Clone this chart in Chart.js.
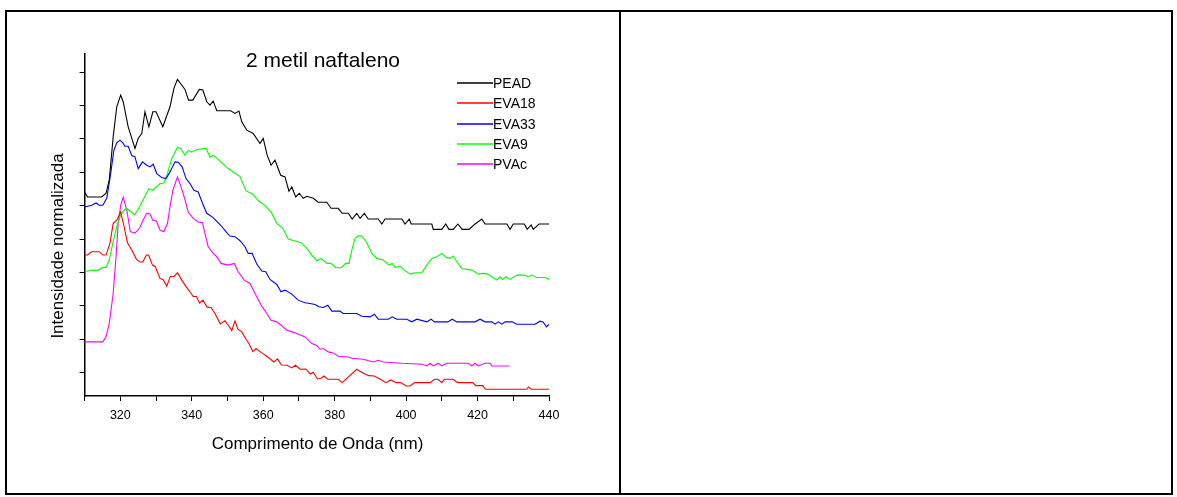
<!DOCTYPE html>
<html><head><meta charset="utf-8">
<script src="https://cdn.jsdelivr.net/npm/chart.js@4"></script>
<style>
html,body{margin:0;padding:0;background:#fff;}
#wrap{position:relative;width:1177px;height:497px;overflow:hidden;background:#fff;}
#c{position:absolute;left:0;top:0;}
.b{position:absolute;background:#000;}
</style></head><body>
<div id="wrap">
<canvas id="c" width="1177" height="497"></canvas>
<div class="b" style="left:5px;top:10px;width:1168px;height:2px"></div>
<div class="b" style="left:5px;top:493px;width:1168px;height:2px"></div>
<div class="b" style="left:5px;top:10px;width:2px;height:485px"></div>
<div class="b" style="left:1171px;top:10px;width:2px;height:485px"></div>
<div class="b" style="left:619px;top:10px;width:2px;height:485px"></div>
</div>
<script>
const TITLE = "2 metil naftaleno";
const X_TITLE = "Comprimento de Onda (nm)";
const Y_TITLE = "Intensidade normalizada";
const X_MIN = 310, X_MAX = 440, X_STEP = 10;
const Y_TICKS = [1,2,3,4,5,6,7,8,9,10];
const SERIES_NAMES = ["PEAD","EVA18","EVA33","EVA9","PVAc"];
const SERIES_COLORS = ["#000000","#ff0000","#0000ff","#00ff00","#ff00ff"];

const PEAD = [[310,6.41],[310.8,6.26],[314.8,6.26],[316.0,6.37],[316.9,6.76],[318.0,8.06],[319.0,8.96],[320.1,9.31],[320.8,9.11],[322.2,8.36],[324.1,7.71],[325.0,8.01],[326.0,8.16],[326.9,8.81],[328.0,8.36],[329.1,8.81],[330.0,8.81],[331.9,8.36],[333.9,8.96],[335.0,9.51],[336.0,9.78],[338.1,9.48],[339.1,9.16],[340.3,9.16],[342.1,9.48],[343.1,9.46],[344.2,9.11],[345.1,9.01],[346.0,9.13],[347.0,8.84],[350.9,8.84],[352.1,8.76],[353.2,8.83],[354.0,8.51],[355.4,8.26],[357.2,8.16],[359.1,7.86],[360.0,8.01],[361.1,7.51],[362.2,7.21],[363.3,7.36],[364.9,6.91],[366.1,6.86],[367.2,6.43],[368.0,6.56],[369.1,6.26],[370.1,6.37],[371.2,6.22],[372.2,6.28],[374.0,6.22],[375.4,6.10],[377.8,6.10],[379.0,5.92],[381.0,5.92],[382.1,5.77],[383.8,5.77],[384.9,5.60],[386.2,5.77],[387.1,5.62],[388.3,5.77],[389.4,5.60],[392.2,5.60],[393.2,5.45],[394.1,5.60],[398.8,5.60],[399.7,5.45],[400.9,5.60],[401.4,5.45],[407.2,5.45],[407.6,5.29],[410.0,5.29],[411.1,5.45],[412.0,5.29],[413.2,5.29],[414.5,5.45],[415.7,5.29],[417.6,5.29],[419.3,5.45],[421.2,5.60],[422.1,5.45],[428.2,5.45],[429.1,5.29],[430.0,5.45],[433.1,5.45],[433.9,5.29],[435.0,5.42],[435.6,5.29],[437.2,5.45],[440,5.45]];

const EVA18 = [[310,4.52],[310.8,4.52],[312.0,4.62],[314.1,4.62],[315.1,4.52],[316.0,4.52],[317.1,4.87],[318.0,5.47],[319.1,5.58],[320.1,5.81],[320.9,5.45],[322.0,4.89],[323.2,4.67],[324.5,4.40],[325.5,4.31],[326.3,4.31],[327.3,4.52],[327.9,4.52],[329.0,4.22],[329.8,4.17],[331.1,3.82],[332.0,3.78],[333.0,3.59],[334.0,3.88],[335.1,3.88],[336.0,3.99],[337.2,3.77],[338.5,3.56],[339.5,3.42],[340.4,3.28],[341.3,3.28],[342.2,3.08],[343.1,3.17],[344.3,2.96],[345.4,2.95],[346.5,2.77],[348.0,2.46],[349.3,2.55],[350.2,2.42],[351.2,2.26],[352.1,2.55],[352.9,2.30],[354.0,2.22],[355.2,2.00],[356.0,1.87],[357.1,1.63],[358.0,1.72],[359.2,1.62],[359.9,1.57],[361.0,1.49],[363.0,1.32],[364.0,1.41],[365.1,1.23],[366.7,1.22],[368.0,1.14],[369.0,1.22],[370.4,1.10],[371.9,1.11],[373.2,0.96],[374.0,1.01],[375.2,0.81],[376.2,0.83],[377.0,0.90],[378.1,0.80],[381.0,0.80],[382.1,0.70],[386.2,1.10],[387.1,1.04],[388.0,0.99],[389.5,0.91],[391.1,0.90],[392.8,0.80],[394.3,0.70],[395.7,0.78],[397.2,0.70],[398.4,0.70],[400.1,0.60],[401.1,0.60],[402.4,0.70],[406.7,0.70],[408.0,0.80],[408.9,0.80],[410.0,0.70],[410.7,0.80],[413.2,0.80],[414.4,0.70],[418.6,0.70],[419.5,0.61],[421.4,0.61],[422.2,0.50],[433.7,0.50],[434.3,0.57],[435.0,0.50],[440,0.50]];

const EVA33 = [[310,5.96],[312.0,6.01],[313.2,6.08],[314.1,6.01],[315.1,6.01],[316.2,6.22],[317.3,6.96],[318.2,7.66],[319.0,7.88],[319.9,7.96],[320.7,7.88],[321.3,7.78],[322.2,7.78],[323.2,7.50],[324.1,7.46],[325.0,7.11],[326.2,7.31],[327.4,7.21],[328.3,7.16],[329.2,7.24],[330.2,6.96],[331.6,6.84],[332.8,6.81],[333.9,7.01],[335.3,7.31],[336.2,7.30],[337.3,7.16],[338.4,6.81],[339.5,6.66],[340.6,6.46],[341.8,6.41],[343.0,6.07],[344.2,5.77],[346.0,5.64],[348.3,5.39],[349.8,5.19],[350.7,5.09],[352.1,5.07],[353.5,4.95],[354.9,4.77],[355.8,4.57],[356.9,4.57],[358.2,4.25],[359.6,4.04],[360.7,4.02],[361.9,3.79],[363.8,3.64],[365.0,3.42],[366.1,3.47],[368.0,3.35],[369.8,3.17],[371.7,3.09],[373.1,3.07],[374.5,3.04],[375.6,2.97],[376.8,2.95],[378.1,3.02],[379.2,2.84],[381.5,2.84],[382.4,2.77],[386.2,2.77],[387.6,2.69],[389.9,2.67],[391.1,2.75],[392.2,2.60],[395.0,2.60],[396.1,2.67],[397.4,2.60],[400.2,2.60],[401.6,2.52],[403.0,2.60],[405.8,2.52],[407.0,2.60],[407.9,2.52],[411.7,2.52],[412.9,2.60],[414.2,2.52],[419.3,2.52],[420.7,2.60],[422.1,2.52],[424.0,2.52],[424.9,2.45],[425.8,2.52],[426.8,2.45],[427.7,2.52],[429.7,2.52],[431.0,2.45],[436.1,2.45],[437.5,2.54],[438.4,2.51],[439.3,2.37],[440,2.45]];

const EVA9 = [[310,4.02],[312.0,4.07],[313.8,4.07],[315.1,4.15],[316.0,4.15],[316.9,4.37],[318.0,4.92],[319.0,5.37],[319.9,5.66],[320.8,5.84],[321.8,5.92],[322.7,5.84],[324.0,5.72],[325.5,5.99],[326.9,6.28],[328.0,6.51],[329.1,6.46],[331.1,6.66],[332.2,6.68],[333.2,6.96],[334.4,7.41],[336.0,7.74],[336.9,7.71],[338.1,7.51],[339.0,7.65],[340.0,7.60],[341.4,7.68],[344.0,7.72],[345.1,7.45],[346.0,7.51],[347.9,7.33],[350.2,7.11],[351.8,6.99],[353.5,6.87],[355.2,6.44],[357.0,6.35],[358.8,6.13],[360.5,6.01],[362.3,5.79],[363.8,5.47],[365.5,5.32],[367.0,5.00],[368.9,4.94],[370.6,4.89],[372.2,4.72],[373.6,4.52],[375.0,4.35],[376.2,4.42],[377.8,4.27],[379.0,4.27],[380.3,4.14],[381.8,4.14],[383.1,4.27],[384.0,4.27],[384.8,4.67],[385.7,5.02],[386.6,5.10],[387.6,5.09],[389.0,4.89],[390.4,4.57],[391.8,4.42],[393.6,4.37],[395.2,4.22],[396.1,4.27],[396.9,4.15],[398.3,4.19],[399.2,4.09],[401.1,3.95],[402.5,3.99],[404.4,3.99],[405.8,4.22],[407.2,4.42],[408.6,4.47],[410.0,4.57],[411.2,4.45],[412.3,4.42],[413.2,4.49],[414.2,4.32],[415.6,4.12],[418.4,4.07],[420.2,3.95],[421.6,3.97],[422.8,3.95],[424.0,3.87],[425.4,3.77],[426.3,3.87],[427.0,3.79],[427.9,3.87],[429.1,3.79],[431.0,3.92],[433.1,3.92],[434.2,3.87],[435.2,3.92],[436.6,3.85],[438.9,3.85],[440,3.79]];

const PVAC = [[310,1.92],[315.1,1.92],[316.0,2.07],[316.9,2.47],[318.0,3.37],[318.8,4.47],[319.4,5.47],[320.1,6.01],[320.8,6.25],[321.8,5.87],[322.8,5.22],[324.1,5.18],[325.4,5.33],[326.4,5.57],[327.4,5.77],[328.3,5.75],[329.1,5.56],[330.1,5.54],[331.1,5.27],[332.2,5.22],[333.2,5.47],[333.9,5.96],[334.7,6.46],[336.0,6.86],[337.0,6.56],[338.0,6.22],[339.0,5.81],[340.4,5.62],[341.8,5.51],[343.0,5.49],[344.0,5.03],[344.6,4.77],[346.0,4.57],[347.0,4.47],[348.2,4.27],[350.1,4.22],[351.9,4.27],[353.0,4.02],[354.7,3.77],[356.3,3.67],[357.7,3.37],[359.6,2.99],[361.0,2.77],[362.2,2.57],[363.8,2.52],[365.0,2.42],[366.6,2.27],[368.1,2.22],[369.4,2.17],[371.7,2.07],[373.6,1.87],[375.0,1.81],[375.9,1.70],[376.8,1.72],[378.2,1.62],[379.6,1.59],[381.0,1.49],[383.8,1.47],[384.8,1.43],[388.0,1.40],[390.8,1.32],[392.2,1.37],[393.6,1.32],[398.8,1.28],[404.5,1.25],[405.8,1.20],[406.7,1.28],[407.6,1.20],[409.0,1.28],[410.0,1.20],[411.4,1.28],[417.4,1.28],[418.4,1.20],[419.3,1.28],[420.2,1.20],[422.1,1.28],[423.5,1.28],[424.0,1.20],[428.9,1.20]];

const SERIES_DATA = [PEAD, EVA18, EVA33, EVA9, PVAC];

const FAM = "'Liberation Sans', Arial, Helvetica, sans-serif";
const W = 1177, H = 497;
const AREA = {left: 84.6, right: 549, top: 54, bottom: 396};

const textPlugin = {
  id: 'txt',
  afterDraw(chart) {
    const c = chart.ctx;
    c.save();
    c.fillStyle = '#000';
    c.textBaseline = 'alphabetic';
    c.textAlign = 'center';
    c.font = '21px ' + FAM;
    c.fillText(TITLE, 323, 66.5);
    c.font = '17px ' + FAM;
    c.fillText(X_TITLE, 317.5, 448.5);
    c.save();
    c.translate(62.5, 246);
    c.rotate(-Math.PI / 2);
    c.fillText(Y_TITLE, 0, 0);
    c.restore();
    c.textAlign = 'left';
    c.font = '14px ' + FAM;
    SERIES_NAMES.forEach((n, i) => {
      const y = Math.round(82.7 + i * 20.4);
      c.strokeStyle = SERIES_COLORS[i];
      c.lineWidth = 1.6;
      c.beginPath(); c.moveTo(457, y); c.lineTo(493, y); c.stroke();
      c.fillText(n, 493, y + 5);
    });
    c.restore();
  }
};

new Chart(document.getElementById('c'), {
  type: 'line',
  data: {
    datasets: SERIES_NAMES.map((n, i) => ({
      label: n,
      data: SERIES_DATA[i].map(p => ({x: p[0], y: p[1]})),
      borderColor: SERIES_COLORS[i],
      borderWidth: 1.1,
      pointRadius: 0,
      tension: 0,
      fill: false
    }))
  },
  options: {
    responsive: false,
    animation: false,
    devicePixelRatio: 1,
    layout: {padding: {left: 0, top: AREA.top, right: W - AREA.right, bottom: 0}},
    plugins: {legend: {display: false}, tooltip: {enabled: false}, title: {display: false}},
    scales: {
      x: {
        type: 'linear', min: X_MIN, max: X_MAX,
        ticks: {stepSize: X_STEP, autoSkip: false, maxRotation: 0, color: '#000',
          font: {family: FAM, size: 12.5}, padding: 7.5,
          callback: v => (Math.round(v) % 20 === 0 ? String(Math.round(v)) : '')},
        grid: {drawOnChartArea: false, drawTicks: true, tickLength: 5, color: '#000', lineWidth: 1},
        border: {color: '#000', width: 1.5},
        afterFit: s => { s.height = H - AREA.bottom; }
      },
      y: {
        type: 'linear', min: 0.3, max: 10.54,
        afterBuildTicks: a => { a.ticks = Y_TICKS.map(v => ({value: v})); },
        ticks: {display: false},
        grid: {drawOnChartArea: false, drawTicks: true, tickLength: 5, color: '#000', lineWidth: 1},
        border: {color: '#000', width: 1.5},
        afterFit: s => { s.width = AREA.left; }
      }
    }
  },
  plugins: [textPlugin]
});
</script>
</body></html>
